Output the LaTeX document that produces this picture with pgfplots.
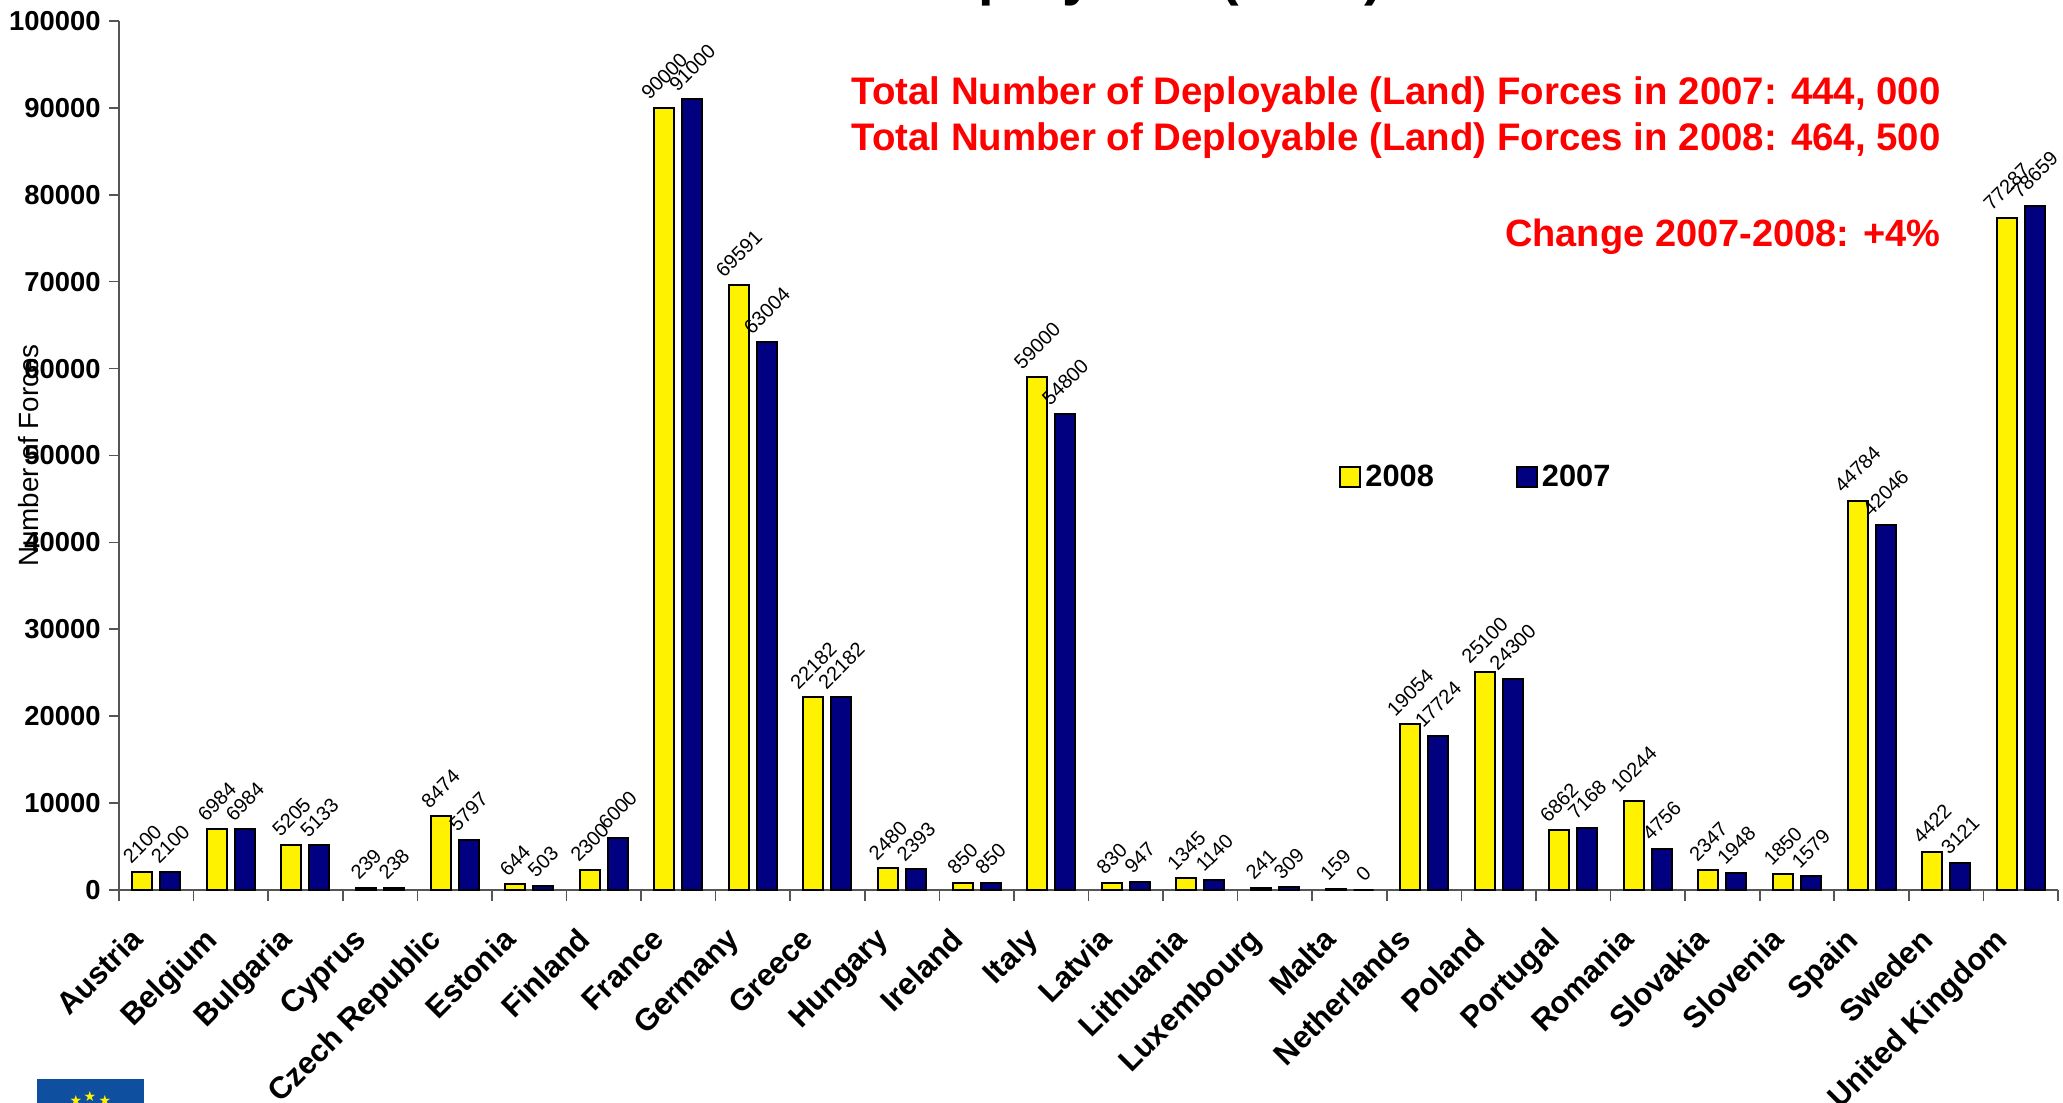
\documentclass[border=0pt]{standalone}
\usepackage{fontspec}
\setmainfont{Liberation Sans}
\newfontfamily\sym{DejaVu Sans}
\usepackage{pgfplots}
\pgfplotsset{compat=1.18}
\usepackage{pgfplotstable}
\definecolor{navy}{HTML}{000080}
\definecolor{flagblue}{HTML}{0F4FA0}
\definecolor{axisgray}{HTML}{555555}
\pgfplotstableread{
x    y08   y07
0.5  2100  2100
1.5  6984  6984
2.5  5205  5133
3.5  239   238
4.5  8474  5797
5.5  644   503
6.5  2300  6000
7.5  90000 91000
8.5  69591 63004
9.5  22182 22182
10.5 2480  2393
11.5 850   850
12.5 59000 54800
13.5 830   947
14.5 1345  1140
15.5 241   309
16.5 159   0
17.5 19054 17724
18.5 25100 24300
19.5 6862  7168
20.5 10244 4756
21.5 2347  1948
22.5 1850  1579
23.5 44784 42046
24.5 4422  3121
25.5 77287 78659
}\forces
\begin{document}
\begin{tikzpicture}
\path[use as bounding box, clip] (0,0) rectangle (1031.5pt,551.5pt);
\fill[flagblue] (18.5pt,0pt) rectangle (72pt,12pt);
\node[yellow,font=\sym\fontsize{7}{7}\selectfont,inner sep=0pt] at (38pt,1.5pt) {★};
\node[yellow,font=\sym\fontsize{7}{7}\selectfont,inner sep=0pt] at (45pt,3.5pt) {★};
\node[yellow,font=\sym\fontsize{7}{7}\selectfont,inner sep=0pt] at (52.5pt,1.5pt) {★};
\begin{axis}[
  at={(59.5pt,106.5pt)}, anchor=origin,
  scale only axis, width=969.5pt, height=434.5pt,
  xmin=0, xmax=26, ymin=0, ymax=100000,
  clip=false,
  axis lines=left,
  axis line style={-, axisgray, line width=1pt},
  ybar=4pt, bar width=10pt,
  xtick={0.5,1.5,...,25.5},
  xticklabels={Austria,Belgium,Bulgaria,Cyprus,Czech Republic,Estonia,Finland,France,Germany,Greece,Hungary,Ireland,Italy,Latvia,Lithuania,Luxembourg,Malta,Netherlands,Poland,Portugal,Romania,Slovakia,Slovenia,Spain,Sweden,United Kingdom},
  minor xtick={0,1,...,26},
  ytick={0,10000,...,100000},
  tick align=outside, tick pos=lower,
  major tick length=5pt, minor tick length=5.4pt,
  major x tick style={draw=none},
  tick style={axisgray, line width=0.8pt},
  scaled ticks=false,
  /pgf/number format/assume math mode=true,
  y tick label style={font=\bfseries\fontsize{13.7}{13.7}\selectfont, /pgf/number format/fixed, /pgf/number format/1000 sep={}, inner sep=4pt},
  x tick label style={font=\bfseries\fontsize{15.4}{15.4}\selectfont, xshift=-13.8pt, yshift=-12.7pt, rotate=45, anchor=north east, inner sep=0pt},
  ylabel={Number of Forces},
  every axis y label/.style={at={(axis description cs:-0.0464,0.5)}, rotate=90, anchor=center, font=\fontsize{13.9}{13.9}\selectfont},
  title={Deployable (2008)},
  every axis title/.style={at={(axis description cs:0.529,1.031)}, anchor=base, font=\bfseries\fontsize{28}{28}\selectfont},
  nodes near coords={\rotatebox{45}{\pgfmathprintnumber{\pgfplotspointmeta}}},
  every node near coord/.append style={font=\fontsize{10}{10}\selectfont, /pgf/number format/fixed, /pgf/number format/precision=0, /pgf/number format/1000 sep={}, black, inner sep=3pt, anchor=south},
  legend columns=2,
  legend cell align=left,
  legend style={at={(axis description cs:0.6292,0.4747)}, anchor=west, draw=none, fill=none, inner sep=0pt, font=\bfseries\fontsize{15.4}{15.4}\selectfont,
    /tikz/every even column/.append style={column sep=39pt}},
  legend image code/.code={\draw[#1, draw=black, line width=1pt] (0pt,-5pt) rectangle (10pt,5pt);},
]
\addplot[fill=yellow, draw=black, line width=1pt] table[x=x,y=y08] {\forces};
\addplot[fill=navy, draw=black, line width=1pt] table[x=x,y=y07] {\forces};
\legend{2008,2007}
\end{axis}
\node[anchor=base east, red, font=\bfseries\fontsize{19.2}{19.2}\selectfont, inner sep=0pt] at (970.5pt,499pt) {Total Number of Deployable (Land) Forces in 2007: 444, 000};
\node[anchor=base east, red, font=\bfseries\fontsize{19.2}{19.2}\selectfont, inner sep=0pt] at (970.5pt,476pt) {Total Number of Deployable (Land) Forces in 2008: 464, 500};
\node[anchor=base east, red, font=\bfseries\fontsize{19}{19}\selectfont, inner sep=0pt] at (970.5pt,428pt) {Change 2007-2008: +4\%};
\end{tikzpicture}
\end{document}
